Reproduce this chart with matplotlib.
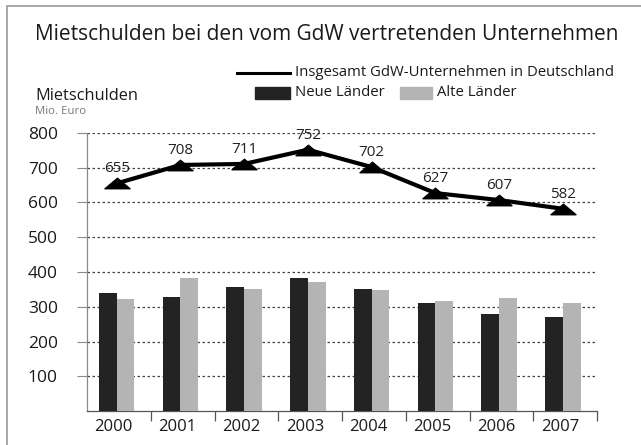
import matplotlib
matplotlib.use("Agg")
import matplotlib.pyplot as plt
from matplotlib.patches import Rectangle
from matplotlib.path import Path
from matplotlib.lines import Line2D
import numpy as np

plt.rcParams['font.family'] = ['Open Sans', 'DejaVu Sans']

years = ['2000', '2001', '2002', '2003', '2004', '2005', '2006', '2007']
total = [655, 708, 711, 752, 702, 627, 607, 582]
neue = [340, 328, 356, 382, 350, 311, 279, 271]
alte = [321, 382, 350, 370, 348, 316, 326, 311]
yticks = [100, 200, 300, 400, 500, 600, 700, 800]

title = 'Mietschulden bei den vom GdW vertretenden Unternehmen'
ylabel = 'Mietschulden'
unit = 'Mio. Euro'
leg_total = 'Insgesamt GdW-Unternehmen in Deutschland'
leg_neue = 'Neue Länder'
leg_alte = 'Alte Länder'

dark = '#232323'
light = '#b4b4b4'

W, H = 641, 445
fig = plt.figure(figsize=(W / 100, H / 100), dpi=100)
fig.patch.set_facecolor('white')

def fx(px):
    return px / W

def fy(py):
    return 1 - py / H

# outer frame
fig.add_artist(Rectangle((fx(7), fy(460)), fx(660), fy(6) - fy(460),
                         transform=fig.transFigure, fill=False,
                         edgecolor='#9a9a9a', linewidth=1.2))

ax = fig.add_axes([fx(87), fy(411), fx(597) - fx(87), fy(133) - fy(411)])
x = np.arange(len(years))
bw = 0.28
ax.bar(x - 0.175, neue, width=bw, color=dark, zorder=3)
ax.bar(x + 0.105, alte, width=bw, color=light, zorder=3)

tri = Path([(-1.0, -0.42), (1.0, -0.42), (0.0, 0.42), (-1.0, -0.42)],
           [Path.MOVETO, Path.LINETO, Path.LINETO, Path.CLOSEPOLY])
ax.plot(x - 0.035, total, color='black', linewidth=3.0, zorder=4,
        marker=tri, markersize=18, markerfacecolor='black',
        markeredgecolor='black', clip_on=False)
for xi, v in zip(x - 0.035, total):
    ax.annotate(str(v), (xi, v), xytext=(0, 5), textcoords='offset points',
                ha='center', va='bottom', fontsize=11, color='#222222', zorder=5)

ax.set_xlim(-0.5, 7.5)
ax.set_ylim(0, 800)
ax.set_yticks(yticks)
ax.set_yticklabels([str(t) for t in yticks], fontsize=12.5, color='#1a1a1a')
ax.yaxis.grid(True, linestyle=(0, (2, 2)), color='#444444', linewidth=0.9, zorder=0)
ax.tick_params(axis='y', length=7, color='#888888', pad=14, width=0.8)

ax.set_xticks(x - 0.08)
ax.set_xticklabels(years, fontsize=12, color='#1a1a1a')
ax.set_xticks(np.arange(0.5, 8.0, 1.0), minor=True)
ax.tick_params(axis='x', which='major', length=0, pad=6)
ax.tick_params(axis='x', which='minor', length=7, color='#555555', width=0.9)

for s in ['top', 'right']:
    ax.spines[s].set_visible(False)
ax.spines['left'].set_color('#888888')
ax.spines['left'].set_linewidth(0.9)
ax.spines['bottom'].set_color('#555555')
ax.spines['bottom'].set_linewidth(0.9)

# texts
fig.text(fx(35), fy(35), title, fontsize=15, color='#1a1a1a', ha='left', va='center')
fig.text(fx(35), fy(96), ylabel, fontsize=11.8, color='#1a1a1a', ha='left', va='center')
fig.text(fx(35), fy(111), unit, fontsize=8.2, color='#777777', ha='left', va='center')

# legend
fig.add_artist(Line2D([fx(237), fx(290)], [fy(73), fy(73)], color='black',
                      linewidth=2.2, transform=fig.transFigure))
fig.text(fx(295), fy(73), leg_total, fontsize=10.7, color='#1a1a1a', ha='left', va='center')
fig.add_artist(Rectangle((fx(255), fy(99)), fx(290) - fx(255), fy(87) - fy(99),
                         transform=fig.transFigure, color=dark))
fig.text(fx(295), fy(93), leg_neue, fontsize=10.7, color='#1a1a1a', ha='left', va='center')
fig.add_artist(Rectangle((fx(400), fy(99)), fx(432) - fx(400), fy(87) - fy(99),
                         transform=fig.transFigure, color=light))
fig.text(fx(437), fy(93), leg_alte, fontsize=10.7, color='#1a1a1a', ha='left', va='center')

fig.savefig('out.png', dpi=100, facecolor='white')
